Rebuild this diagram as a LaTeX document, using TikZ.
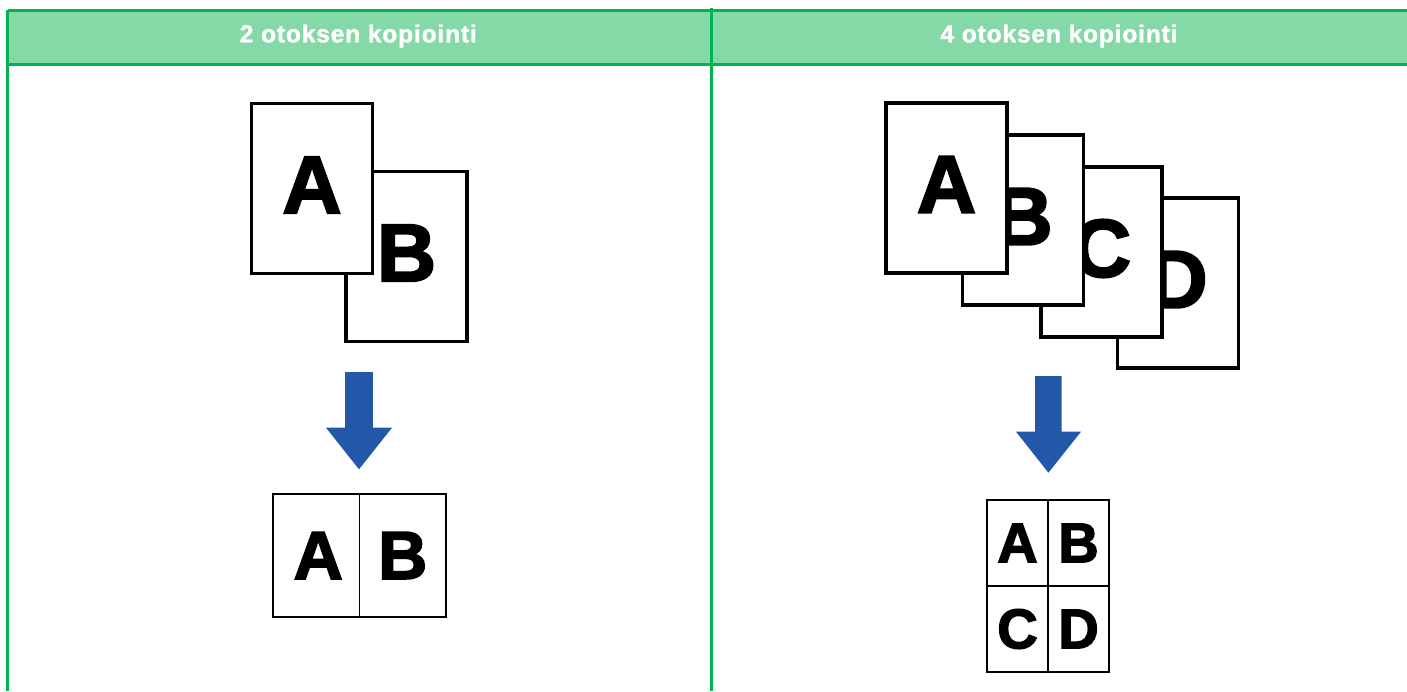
\documentclass[tikz,border=0pt]{standalone}
\usepackage{fontspec}
\setmainfont{Liberation Sans}
\newfontfamily\heavy[FakeBold=2.5]{Liberation Sans Bold}
\newfontfamily\headfont[FakeBold=1.5,LetterSpace=3.5]{Liberation Sans Bold}
\usetikzlibrary{calc}
\definecolor{gline}{RGB}{0,178,80}
\definecolor{gfill}{RGB}{132,217,167}
\definecolor{barrow}{RGB}{35,87,168}
\begin{document}
\begin{tikzpicture}[x=1pt,y=-1pt,
  frame/.style={draw=gline, line width=3pt},
  headtext/.style={text=white, font=\fontsize{24.5}{25}\headfont, inner sep=0, anchor=base},
  page/.style={draw=black, fill=white, line width=3.1pt, inner sep=0, outer sep=0,
    minimum width=121pt, minimum height=170pt},
  bigletter/.style={font=\fontsize{82}{82}\heavy, inner sep=0},
  midletter/.style={font=\fontsize{68}{68}\heavy, inner sep=0},
  smallletter/.style={font=\fontsize{56}{56}\heavy, inner sep=0},
  resbox/.style={draw=black, fill=white, line width=2.8pt, inner sep=0, outer sep=0},
  divider/.style={draw=black, line width=1.5pt},
  blockarrow/.style={fill=barrow}]
\useasboundingbox (0,0) rectangle (1407,691);

% header band and frame
\fill[gfill] (7.5,10) rectangle (1407,64);
\coordinate (tl) at (7.5,10);
\coordinate (tr) at (1407,10);
\coordinate (hl) at (7.5,64);
\coordinate (hr) at (1407,64);
\coordinate (bl) at (7.5,691);
\coordinate (mt) at (711,8);
\coordinate (mb) at (711,691);
\draw[frame] (tl) -- (tr);
\draw[frame] (hl) -- (hr);
\draw[frame] (tl) -- (bl);
\draw[frame] (mt) -- (mb);

\node[headtext] (h1) at (358.3,42.3) {2 otoksen kopiointi};
\node[headtext] (h2) at (1059,42.3) {4 otoksen kopiointi};

% left originals
\node[page] (lB) at (406.5,256.5) {};
\node[bigletter] (lBt) at ([yshift=3.5pt]lB.center) {B};
\node[page] (lA) at (312,188.5) {};
\node[bigletter] (lAt) at ([yshift=3.5pt]lA.center) {A};

% left arrow
\fill[blockarrow] (345.2,372) -- (372.8,372) -- (372.8,427.7) -- (392,427.7)
  -- (359,469.3) -- (326,427.7) -- (345.2,427.7) -- cycle;

% left result
\node[resbox, minimum width=173pt, minimum height=123pt] (lR) at (359.5,555.5) {};
\draw[divider] (lR.north) -- (lR.south);
\node[midletter] (lRA) at ($(lR.west)!0.5!(lR.center)+(2,0)$) {A};
\node[midletter] (lRB) at ($(lR.center)!0.5!(lR.east)$) {B};

% right originals
\node[page] (rD) at (1178,283) {};
\node[bigletter] (rDt) at ([yshift=3.5pt]rD.center) {D};
\node[page] (rC) at (1101.5,252) {};
\node[bigletter] (rCt) at ([yshift=3.5pt]rC.center) {C};
\node[page] (rB) at (1023,220) {};
\node[bigletter] (rBt) at ([yshift=3.5pt]rB.center) {B};
\node[page] (rA) at (946.5,188) {};
\node[bigletter] (rAt) at ([yshift=3.5pt]rA.center) {A};

% right arrow
\fill[blockarrow] (1035,376) -- (1061.7,376) -- (1061.7,431.7) -- (1081,431.7)
  -- (1048.4,472.7) -- (1016,431.7) -- (1035,431.7) -- cycle;

% right result
\node[resbox, minimum width=122pt, minimum height=172pt] (rR) at (1048,586) {};
\draw[divider] (rR.north) -- (rR.south);
\draw[divider] (rR.west) -- (rR.east);
\node[smallletter] (rRA) at ($(rR.north west)!0.5!(rR.center)$) {A};
\node[smallletter] (rRB) at ($(rR.north east)!0.5!(rR.center)$) {B};
\node[smallletter] (rRC) at ($(rR.south west)!0.5!(rR.center)$) {C};
\node[smallletter] (rRD) at ($(rR.south east)!0.5!(rR.center)$) {D};
\end{tikzpicture}
\end{document}
